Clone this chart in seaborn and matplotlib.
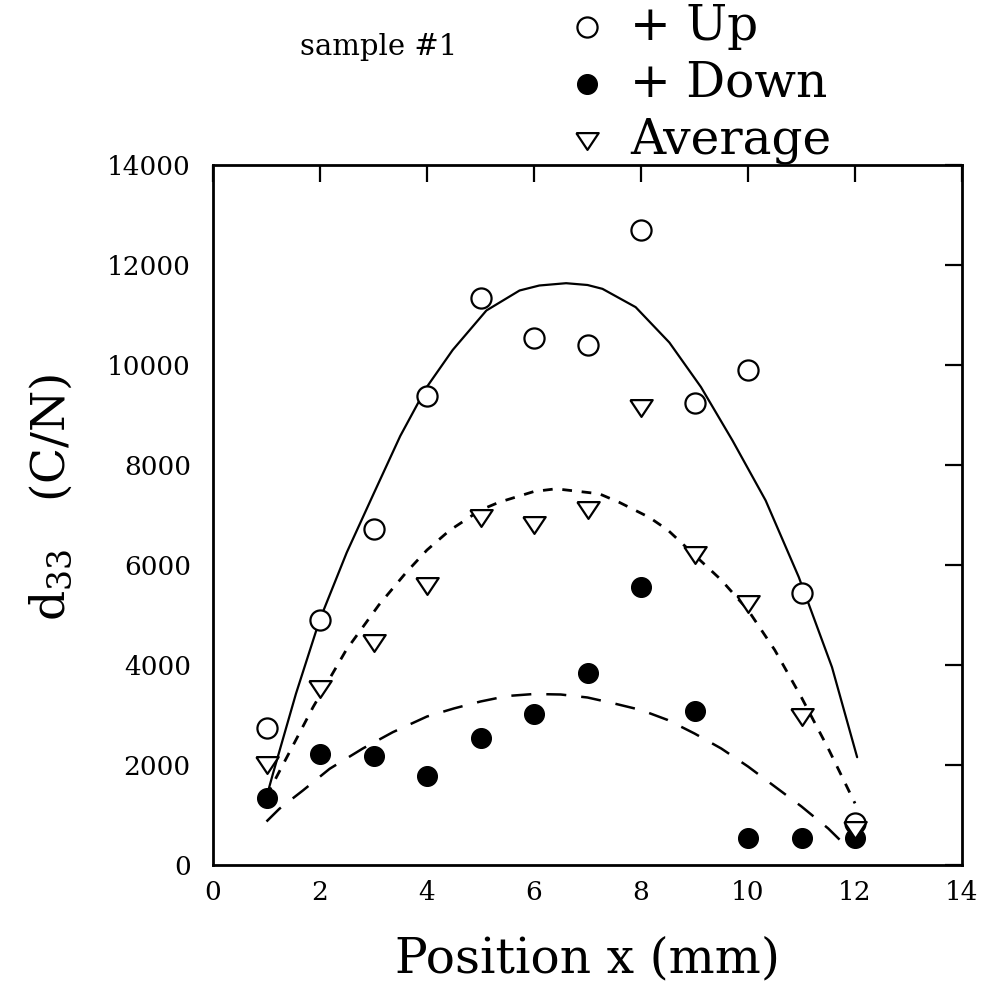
import numpy as np
import pandas as pd
import matplotlib
matplotlib.use("Agg")
import matplotlib.pyplot as plt
import seaborn as sns

# --- measured points (position in mm, d33 in C/N) ---
pos_mm = [1, 2, 3, 4, 5, 6, 7, 8, 9, 10, 11, 12]
d33_up = [2740, 4900, 6730, 9380, 11350, 10550, 10400, 12700, 9250, 9900, 5440, 840]
d33_down = [1350, 2220, 2180, 1790, 2550, 3030, 3850, 5570, 3090, 550, 550, 540]
d33_avg = [2000, 3530, 4440, 5580, 6950, 6810, 7110, 9150, 6200, 5230, 2970, 700]

# --- fitted curves ---
fit_up_x = [1.0, 1.12, 1.55, 1.99, 2.5, 3.0, 3.5, 3.99, 4.48, 5.11, 5.73, 6.1, 6.6, 7.0,
            7.28, 7.9, 8.53, 9.12, 9.71, 10.33, 10.95, 11.57, 12.04]
fit_up_y = [1360, 1824, 3424, 4890, 6250, 7420, 8580, 9550, 10300, 11090, 11490, 11590,
            11636, 11600, 11523, 11157, 10450, 9560, 8490, 7290, 5756, 3956, 2156]

fit_avg_x = [1.0, 1.12, 1.5, 1.87, 2.49, 3.1, 3.61, 4.0, 4.42, 5.0, 5.35, 6.0, 6.41,
             7.22, 7.6, 8.15, 8.5, 9.0, 9.5, 10.0, 10.5, 11.0, 11.5, 12.0]
fit_avg_y = [1380, 1624, 2400, 3157, 4300, 5200, 5850, 6300, 6690, 7100, 7256, 7470, 7524,
             7424, 7250, 6956, 6700, 6200, 5700, 5100, 4300, 3350, 2330, 1233]

fit_down_x = [1.0, 1.24, 1.68, 2.18, 2.8, 3.36, 4.0, 4.5, 5.0, 5.5, 6.0, 6.5, 7.0,
              7.5, 8.0, 8.5, 9.0, 9.5, 10.0, 10.5, 11.0, 11.5, 11.9]
fit_down_y = [870, 1124, 1490, 1924, 2330, 2656, 2970, 3130, 3270, 3380, 3420, 3410, 3350,
              3230, 3100, 2900, 2630, 2330, 1970, 1570, 1170, 730, 310]

df = pd.DataFrame({"x": pos_mm, "up": d33_up, "down": d33_down, "avg": d33_avg})

sns.set_style("white")
plt.rcParams["font.family"] = ["DejaVu Serif", "DejaVu Sans"]
plt.rcParams["mathtext.fontset"] = "dejavuserif"
for key in ["text.color", "axes.labelcolor", "xtick.color", "ytick.color"]:
    plt.rcParams[key] = "black"

fig = plt.figure(figsize=(9.88, 9.86), dpi=100)
ax = fig.add_axes([213 / 988, 1 - 865 / 986, 749 / 988, 700 / 986])

# fits
sns.lineplot(x=fit_up_x, y=fit_up_y, ax=ax, color="black", linewidth=1.6, sort=False)
sns.lineplot(x=fit_avg_x, y=fit_avg_y, ax=ax, color="black", linewidth=2.0,
             sort=False, linestyle=(0, (3.5, 3.5)))
sns.lineplot(x=fit_down_x, y=fit_down_y, ax=ax, color="black", linewidth=1.8,
             sort=False, linestyle=(0, (8, 6)))

# points
tri = [(-1, 0.75), (1, 0.75), (0, -0.75), (-1, 0.75)]
sns.scatterplot(data=df, x="x", y="up", ax=ax, marker="o", s=210, facecolor="white",
                edgecolor="black", linewidth=1.6, label="+ Up", zorder=3)
sns.scatterplot(data=df, x="x", y="down", ax=ax, marker="o", s=200, color="black",
                edgecolor="black", linewidth=1, label="+ Down", zorder=3)
sns.scatterplot(data=df, x="x", y="avg", ax=ax, marker=tri, s=260, facecolor="white",
                edgecolor="black", linewidth=1.6, label="Average", zorder=3)

ax.set_xlim(0, 14)
ax.set_ylim(0, 14000)
ax.set_xticks(np.arange(0, 15, 2))
ax.set_yticks(np.arange(0, 14001, 2000))
ax.tick_params(axis="both", direction="in", length=12, width=1.6, top=True, right=True,
               labelsize=19)
ax.tick_params(axis="x", pad=11)
ax.tick_params(axis="y", pad=16)
for sp in ax.spines.values():
    sp.set_linewidth(2.0)
    sp.set_color("black")

ax.set_xlabel("Position x (mm)", fontsize=35)
ax.xaxis.set_label_coords(0.5, -0.1)
ax.xaxis.label.set_va("top")
ax.set_ylabel(r"d$_{33}$   (C/N)", fontsize=34)
ax.yaxis.set_label_coords(-0.185, 0.525)

ax.legend(loc="upper left", bbox_to_anchor=(569 / 988, 1 - 3 / 986),
          bbox_transform=fig.transFigure, frameon=False, fontsize=35,
          handlelength=0.75, handletextpad=0.5, labelspacing=0.2,
          borderpad=0, borderaxespad=0)

fig.text(300 / 988, 1 - 47 / 986, "sample #1", fontsize=21, ha="left", va="center")

fig.savefig("out.png", dpi=100, facecolor="white")
